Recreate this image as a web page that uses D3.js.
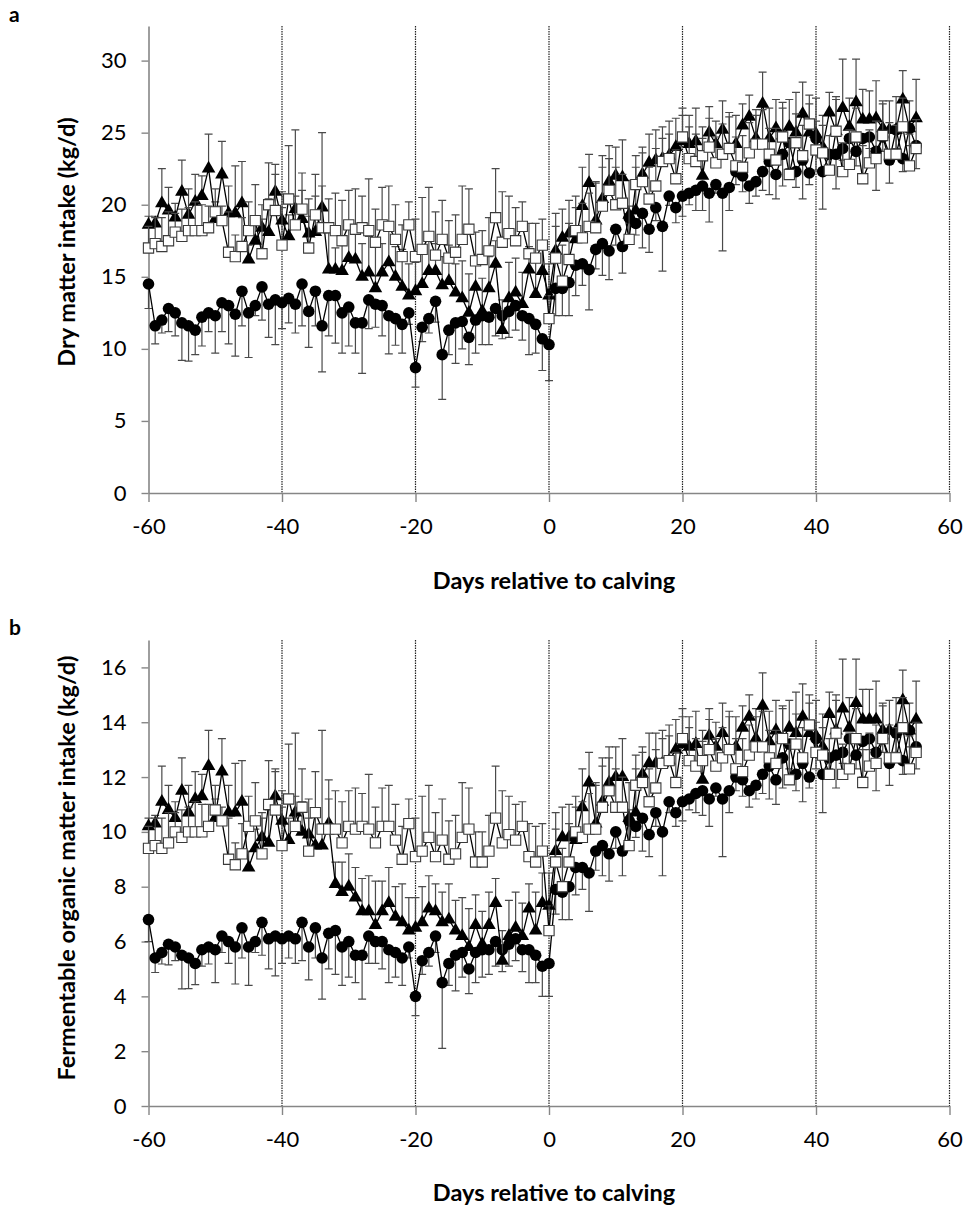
<!DOCTYPE html>
<html>
<head>
<meta charset="utf-8">
<script src="https://cdn.jsdelivr.net/npm/d3@7"></script>
<style>
  body { margin: 0; background: #fff; }
  svg { display: block; }
  text { font-family: Lato, "Open Sans", sans-serif; fill: #000; }
</style>
</head>
<body>
<div id="chart"></div>
<script>
// days relative to calving, one record per day
const days = d3.range(-60, 56);
const xTicks = [-60, -40, -20, 0, 20, 40, 60];
const guideDays = [-40, -20, 0, 20, 40, 60];
const dmiTicks = [0, 5, 10, 15, 20, 25, 30];
const fomTicks = [0, 2, 4, 6, 8, 10, 12, 14, 16];

// panel a: dry matter intake (kg/d)
const dmiCircle = [14.5, 11.6, 12.0, 12.8, 12.5, 11.8, 11.6, 11.3, 12.2, 12.5,
  12.3, 13.2, 13.0, 12.4, 14.0, 12.5, 13.0, 14.3, 13.1, 13.4,
  13.2, 13.5, 13.1, 14.5, 12.6, 14.0, 11.6, 13.7, 13.7, 12.5,
  12.9, 11.8, 11.8, 13.4, 13.1, 13.0, 12.3, 12.1, 11.7, 12.5,
  8.7, 11.5, 12.1, 13.3, 9.6, 11.3, 11.8, 11.9, 10.8, 12.0,
  12.3, 12.2, 12.8, 12.3, 12.6, 13.0, 12.3, 12.1, 11.7, 10.7,
  10.3, 14.2, 14.2, 14.6, 15.8, 15.9, 15.5, 16.9, 17.3, 16.8,
  18.3, 17.1, 19.1, 18.7, 19.4, 18.3, 19.8, 18.5, 20.6, 19.8,
  20.6, 20.8, 21.0, 21.3, 20.8, 21.4, 20.8, 21.2, 22.3, 22.0,
  21.3, 21.6, 22.3, 23.0, 22.1, 23.5, 24.3, 22.3, 23.1, 22.2,
  24.6, 22.3, 23.5, 23.5, 23.9, 24.6, 23.7, 24.6, 24.7, 23.7,
  24.7, 23.1, 25.2, 23.2, 25.3, 24.1];
const dmiCircleErr = [1.7, 1.25, 0.9, 1.6, 1.6, 2.6, 2.45, 1.7, 2.0, 1.3,
  2.6, 2.0, 2.65, 2.9, 2.4, 3.1, 0.7, 2.3, 2.3, 3.1,
  1.8, 1.7, 2.0, 2.9, 2.5, 2.4, 3.2, 2.8, 3.3, 2.8,
  2.7, 2.1, 3.5, 2.0, 1.6, 2.1, 2.65, 1.85, 2.0, 0.8,
  1.35, 1.0, 1.0, 1.45, 3.1, 1.7, 2.8, 1.9, 1.9, 2.3,
  2.0, 1.9, 1.9, 1.6, 1.8, 1.7, 1.7, 2.5, 2.0, 2.2,
  2.5, 1.9, 1.9, 2.3, 2.1, 1.5, 2.8, 1.35, 2.2, 2.0,
  1.1, 1.85, 1.6, 0.8, 2.4, 1.6, 0.9, 3.1, 0.65, 1.05,
  1.4, 0.8, 1.4, 1.7, 2.0, 0.6, 4.0, 1.6, 0.9, 1.1,
  1.2, 1.0, 1.3, 2.3, 1.7, 2.2, 1.8, 1.1, 2.7, 0.8,
  2.2, 2.6, 0.8, 2.4, 0.8, 1.9, 1.0, 2.5, 0.8, 2.7,
  1.0, 1.6, 1.3, 0.9, 1.2, 1.6];
const dmiTriangle = [18.6, 18.7, 20.1, 19.6, 19.1, 20.9, 19.3, 20.2, 20.6, 22.5,
  19.0, 22.1, 19.4, 19.4, 20.1, 16.2, 17.5, 18.4, 18.1, 20.9,
  18.9, 17.8, 19.7, 19.0, 18.0, 18.1, 19.8, 15.5, 15.5, 15.4,
  16.3, 16.2, 15.0, 15.3, 14.2, 15.3, 16.0, 15.0, 14.3, 13.7,
  14.0, 14.5, 15.4, 15.4, 14.4, 14.7, 13.9, 13.5, 12.5, 14.3,
  12.6, 14.2, 15.9, 11.3, 13.5, 13.9, 13.1, 15.5, 13.8, 15.4,
  13.7, 16.8, 17.7, 18.0, 17.6, 19.9, 21.5, 18.9, 20.4, 21.6,
  22.0, 21.9, 19.3, 19.6, 22.1, 22.9, 23.1, 23.2, 23.4, 24.0,
  24.4, 24.2, 24.4, 22.0, 25.0, 24.2, 25.2, 23.9, 24.2, 25.5,
  26.1, 24.6, 27.0, 24.6, 25.3, 24.8, 25.4, 25.0, 26.3, 25.0,
  24.9, 24.0, 26.4, 25.1, 26.7, 25.4, 27.1, 25.9, 25.9, 26.0,
  25.3, 25.2, 25.2, 27.3, 25.3, 26.0];
const dmiTriangleErr = [0.6, 0.5, 2.4, 1.6, 1.0, 2.2, 1.8, 1.9, 1.4, 2.4,
  1.2, 2.3, 1.9, 3.3, 2.9, 1.0, 1.2, 1.6, 2.3, 1.9,
  2.0, 1.5, 5.5, 2.0, 2.4, 2.5, 1.5, 3.0, 1.5, 2.0,
  2.2, 2.0, 2.3, 2.5, 3.0, 2.0, 2.4, 2.1, 2.6, 2.2,
  2.0, 2.4, 2.3, 1.9, 2.0, 2.5, 2.0, 2.6, 2.7, 2.0,
  2.3, 2.2, 1.6, 2.1, 2.5, 2.4, 2.2, 1.6, 2.6, 2.0,
  2.2, 2.6, 2.0, 2.3, 2.2, 2.7, 2.0, 2.6, 3.0, 2.5,
  2.0, 2.6, 2.4, 3.0, 1.5, 2.0, 2.1, 2.2, 2.4, 2.0,
  1.8, 2.0, 2.3, 2.6, 1.8, 1.6, 2.0, 2.2, 2.0, 1.5,
  1.5, 2.0, 2.2, 2.1, 2.0, 2.3, 1.9, 2.8, 2.2, 2.0,
  2.5, 2.2, 1.4, 2.4, 3.4, 2.0, 3.0, 2.1, 2.0, 2.6,
  1.9, 2.0, 2.3, 2.0, 1.9, 2.7];
const dmiSquare = [17.0, 17.3, 17.1, 17.5, 18.1, 17.8, 18.2, 18.2, 18.2, 18.4,
  19.5, 18.9, 16.7, 16.4, 17.1, 18.2, 18.9, 16.6, 20.0, 19.6,
  17.2, 20.4, 18.6, 19.7, 17.0, 19.3, 18.4, 18.4, 18.2, 17.5,
  18.6, 18.3, 18.4, 18.2, 17.4, 18.6, 18.5, 17.6, 16.4, 18.6,
  16.4, 16.9, 17.8, 16.5, 17.6, 16.3, 16.7, 17.6, 18.3, 16.1,
  16.2, 16.8, 19.1, 17.4, 18.0, 17.5, 18.5, 16.6, 16.3, 17.2,
  12.1, 16.3, 14.7, 16.2, 18.2, 17.7, 18.5, 18.4, 19.9, 21.0,
  20.0, 20.1, 17.6, 21.4, 21.6, 20.4, 21.3, 23.0, 23.2, 21.8,
  24.7, 23.2, 23.0, 23.4, 24.0, 22.9, 23.5, 23.9, 22.7, 22.6,
  23.6, 24.2, 24.2, 23.5, 23.1, 24.7, 22.1, 24.3, 23.4, 25.6,
  23.8, 23.6, 22.4, 25.1, 22.3, 22.8, 24.7, 21.8, 22.9, 23.2,
  24.8, 23.5, 23.5, 25.4, 22.7, 23.9];
const dmiSquareErr = [1.5, 1.8, 2.0, 2.0, 1.3, 1.9, 1.6, 2.0, 1.8, 1.5,
  1.6, 1.0, 2.8, 1.5, 2.0, 2.0, 2.5, 2.4, 2.9, 2.5,
  2.6, 3.7, 2.0, 2.5, 2.2, 2.8, 6.6, 2.0, 2.6, 2.8,
  2.4, 2.8, 2.2, 3.6, 2.3, 2.6, 2.8, 2.4, 2.2, 1.6,
  2.6, 3.6, 3.4, 3.0, 2.7, 2.6, 2.6, 3.7, 2.8, 2.0,
  2.0, 2.3, 3.4, 3.5, 2.6, 2.3, 1.7, 2.1, 2.4, 1.8,
  1.6, 2.2, 2.5, 2.5, 2.4, 2.4, 2.3, 3.2, 2.7, 2.2,
  2.6, 2.0, 2.3, 2.0, 2.4, 2.2, 2.6, 1.6, 1.7, 2.0,
  2.0, 2.2, 1.9, 2.0, 2.0, 1.8, 2.1, 2.5, 2.0, 2.2,
  2.1, 2.0, 2.4, 1.8, 2.2, 2.0, 2.4, 2.0, 2.1, 2.0,
  2.0, 1.9, 2.4, 2.2, 2.0, 2.4, 2.0, 2.3, 2.3, 2.6,
  2.2, 2.2, 2.0, 2.0, 2.2, 2.0];

// panel b: fermentable organic matter intake (kg/d)
const fomCircle = [6.8, 5.4, 5.6, 5.9, 5.8, 5.5, 5.4, 5.2, 5.7, 5.8,
  5.7, 6.2, 6.0, 5.8, 6.5, 5.8, 6.0, 6.7, 6.1, 6.2,
  6.1, 6.2, 6.1, 6.7, 5.8, 6.5, 5.4, 6.3, 6.4, 5.8,
  6.0, 5.5, 5.5, 6.2, 6.0, 6.0, 5.7, 5.6, 5.4, 5.8,
  4.0, 5.3, 5.6, 6.2, 4.5, 5.2, 5.5, 5.6, 5.0, 5.6,
  5.7, 5.7, 6.0, 5.7, 5.9, 6.1, 5.7, 5.7, 5.5, 5.1,
  5.2, 7.9, 7.8, 8.0, 8.7, 8.7, 8.5, 9.3, 9.5, 9.2,
  10.0, 9.3, 10.4, 10.2, 10.5, 9.9, 10.7, 10.0, 11.1, 10.7,
  11.1, 11.2, 11.4, 11.5, 11.2, 11.6, 11.2, 11.5, 12.0, 11.9,
  11.5, 11.7, 12.1, 12.4, 11.9, 12.7, 13.2, 12.1, 12.5, 12.0,
  13.4, 12.1, 12.7, 12.8, 12.9, 13.4, 12.8, 13.3, 13.4, 12.9,
  13.4, 12.5, 13.6, 12.6, 13.7, 13.1];
const fomCircleErr = [0.8, 0.53, 0.42, 0.75, 0.5, 1.23, 1.12, 0.77, 0.6, 0.62,
  1.2, 0.6, 0.8, 1.35, 1.1, 1.4, 0.4, 1.2, 1.1, 1.45,
  0.9, 0.8, 0.9, 1.4, 1.2, 1.1, 1.5, 1.3, 1.6, 1.4,
  1.3, 1.0, 1.6, 1.0, 0.8, 1.0, 1.2, 0.9, 1.0, 0.4,
  0.7, 0.5, 0.5, 0.6, 2.4, 0.8, 1.3, 0.9, 0.9, 1.1,
  1.0, 0.9, 0.9, 0.8, 0.8, 0.8, 0.8, 1.2, 1.0, 1.1,
  1.2, 0.9, 1.0, 1.2, 1.0, 0.8, 1.4, 0.7, 1.1, 1.0,
  0.6, 0.9, 0.8, 0.4, 1.2, 0.8, 0.5, 1.6, 0.4, 0.5,
  0.7, 0.4, 0.7, 0.9, 1.0, 0.3, 2.1, 0.8, 0.5, 0.6,
  0.6, 0.5, 0.7, 1.2, 0.9, 1.1, 0.9, 0.6, 1.4, 0.4,
  1.1, 1.4, 0.4, 1.2, 0.4, 1.0, 0.5, 1.3, 0.4, 1.4,
  0.5, 0.8, 0.7, 0.5, 0.6, 0.8];
const fomTriangle = [10.2, 10.3, 11.1, 10.8, 10.5, 11.5, 10.7, 11.2, 11.3, 12.4,
  10.5, 12.2, 10.7, 10.7, 11.1, 8.7, 9.4, 9.8, 9.6, 11.3,
  10.4, 9.7, 10.7, 10.0, 9.9, 9.5, 9.5, 10.3, 8.1, 7.8,
  8.0, 7.6, 7.1, 7.1, 6.6, 7.1, 7.4, 6.9, 6.7, 6.4,
  6.5, 6.7, 7.2, 7.1, 6.7, 6.8, 6.4, 6.2, 5.8, 6.6,
  5.9, 6.6, 7.4, 5.3, 6.2, 6.5, 6.2, 7.2, 6.4, 7.4,
  7.3, 9.3, 9.8, 9.8, 9.7, 10.9, 11.8, 10.3, 11.1, 11.8,
  12.0, 12.0, 10.5, 10.7, 12.1, 12.5, 12.5, 12.5, 12.6, 13.0,
  13.2, 13.1, 13.2, 11.9, 13.5, 13.1, 13.6, 13.0, 13.1, 13.8,
  14.2, 13.4, 14.6, 13.3, 13.7, 13.4, 13.8, 13.6, 14.2, 13.6,
  13.5, 13.1, 14.3, 13.7, 14.5, 13.8, 14.7, 14.1, 14.1, 14.1,
  13.7, 13.7, 13.7, 14.8, 13.7, 14.1];
const fomTriangleErr = [0.3, 0.3, 1.3, 0.9, 0.6, 1.2, 1.0, 1.0, 0.8, 1.3,
  0.7, 1.2, 1.0, 1.8, 1.5, 0.6, 0.7, 0.9, 1.2, 1.0,
  1.1, 0.8, 2.9, 1.1, 1.3, 1.3, 0.8, 1.6, 0.8, 1.1,
  1.2, 1.1, 1.2, 1.3, 1.6, 1.1, 1.3, 1.1, 1.4, 1.2,
  1.1, 1.3, 1.2, 1.0, 1.1, 1.3, 1.1, 1.4, 1.4, 1.1,
  1.2, 1.2, 0.9, 1.1, 1.3, 1.3, 1.2, 0.9, 1.4, 1.1,
  1.2, 1.4, 1.1, 1.2, 1.2, 1.4, 1.1, 1.4, 1.6, 1.3,
  1.1, 1.4, 1.3, 1.6, 0.8, 1.1, 1.1, 1.2, 1.3, 1.1,
  1.0, 1.1, 1.2, 1.4, 1.0, 0.9, 1.1, 1.2, 1.1, 0.8,
  0.8, 1.1, 1.2, 1.1, 1.1, 1.2, 1.0, 1.5, 1.2, 1.1,
  1.3, 1.2, 0.8, 1.3, 1.8, 1.1, 1.6, 1.1, 1.1, 1.4,
  1.0, 1.1, 1.2, 1.1, 1.0, 1.4];
const fomSquare = [9.4, 9.5, 9.4, 9.6, 10.0, 9.8, 10.0, 10.0, 10.0, 10.2,
  10.8, 10.4, 9.0, 8.8, 9.2, 10.2, 10.4, 9.2, 11.0, 10.8,
  9.5, 11.2, 10.2, 10.9, 9.3, 10.7, 10.1, 10.1, 10.1, 9.6,
  10.2, 10.1, 10.2, 10.1, 9.6, 10.2, 10.2, 9.7, 9.0, 10.3,
  9.1, 9.3, 9.8, 9.1, 9.7, 9.0, 9.2, 9.8, 10.1, 8.9,
  8.9, 9.3, 10.5, 9.6, 9.9, 9.7, 10.2, 9.1, 8.9, 9.3,
  6.4, 8.9, 8.0, 8.9, 10.0, 9.8, 10.1, 10.1, 10.9, 11.5,
  10.9, 10.9, 9.5, 11.7, 11.8, 11.1, 11.6, 12.5, 12.6, 11.8,
  13.4, 12.6, 12.4, 12.6, 13.0, 12.4, 12.7, 13.0, 12.3, 12.2,
  12.8, 13.1, 13.1, 12.7, 12.5, 13.4, 11.9, 13.2, 12.7, 13.9,
  12.9, 12.8, 12.1, 13.6, 12.1, 12.3, 13.4, 11.8, 12.4, 12.5,
  13.4, 12.7, 12.7, 13.8, 12.3, 12.9];
const fomSquareErr = [0.8, 1.0, 1.1, 1.1, 0.7, 1.0, 0.9, 1.1, 1.0, 0.8,
  0.9, 0.5, 1.5, 0.8, 1.1, 1.1, 1.4, 1.3, 1.6, 1.4,
  1.4, 2.0, 1.1, 1.4, 1.2, 1.5, 3.6, 1.1, 1.4, 1.5,
  1.3, 1.5, 1.2, 2.0, 1.3, 1.4, 1.5, 1.3, 1.2, 0.9,
  1.4, 2.0, 1.9, 1.6, 1.5, 1.4, 1.4, 2.0, 1.5, 1.1,
  1.1, 1.3, 1.9, 1.9, 1.4, 1.3, 0.9, 1.2, 1.3, 1.0,
  0.9, 1.2, 1.4, 1.4, 1.3, 1.3, 1.3, 1.7, 1.5, 1.2,
  1.4, 1.1, 1.3, 1.1, 1.3, 1.2, 1.4, 0.9, 0.9, 1.1,
  1.1, 1.2, 1.0, 1.1, 1.1, 1.0, 1.1, 1.4, 1.1, 1.2,
  1.1, 1.1, 1.3, 1.0, 1.2, 1.1, 1.3, 1.1, 1.1, 1.1,
  1.1, 1.0, 1.3, 1.2, 1.1, 1.3, 1.1, 1.2, 1.2, 1.4,
  1.2, 1.2, 1.1, 1.1, 1.2, 1.1];

const W = 966, H = 1208;
const svg = d3.select("#chart").append("svg")
  .attr("width", W)
  .attr("height", H)
  .attr("viewBox", [0, 0, W, H].join(" "));

const x = d3.scaleLinear().domain([-60, 60]).range([148.5, 949.5]);
const axisGray = "#868686";

function drawPanel(p) {
  const y = d3.scaleLinear().domain([0, p.yMax]).range([p.bottom, p.top]);
  const g = svg.append("g");

  // dotted guide lines at each 20 days
  g.append("g").selectAll("line")
    .data(guideDays)
    .join("line")
      .attr("x1", d => x(d)).attr("x2", d => x(d))
      .attr("y1", p.top).attr("y2", p.bottom)
      .attr("stroke", "#222")
      .attr("stroke-width", 1.2)
      .attr("stroke-dasharray", "1.5,1");

  // axes, plain hyphen for negatives like the source
  const yAxis = g.append("g")
    .attr("transform", `translate(${x(-60)},0)`)
    .call(d3.axisLeft(y).tickValues(p.ticks).tickFormat(d => String(d))
      .tickSize(7).tickSizeOuter(0).tickPadding(15));
  const xAxis = g.append("g")
    .attr("transform", `translate(0,${p.bottom})`)
    .call(d3.axisBottom(x).tickValues(xTicks).tickFormat(d => String(d))
      .tickSize(9).tickSizeOuter(0).tickPadding(16));

  [yAxis, xAxis].forEach(a => {
    a.select(".domain").attr("stroke", axisGray).attr("stroke-width", 1.6);
    a.selectAll(".tick line").attr("stroke", axisGray).attr("stroke-width", 1.4);
    a.selectAll(".tick text")
      .attr("font-size", 22)
      .attr("font-family", "Lato, 'Open Sans', sans-serif")
      .attr("fill", "#000");
  });

  // series: circles (error down), triangles and squares (error up)
  p.series.forEach(s => {
    const pts = days.map((d, i) => ({day: d, v: s.values[i], e: s.err[i]}));
    const sg = g.append("g");
    const tip = d => y(d.v + s.dir * d.e);

    sg.append("g").selectAll("path")
      .data(pts)
      .join("path")
        .attr("d", d => `M${x(d.day)},${y(d.v)}V${tip(d)}M${x(d.day) - 4},${tip(d)}H${x(d.day) + 4}`)
        .attr("fill", "none")
        .attr("stroke", "#4a4a4a")
        .attr("stroke-width", 1.2);

    sg.append("path")
      .datum(pts)
      .attr("fill", "none")
      .attr("stroke", "#000")
      .attr("stroke-width", 1.3)
      .attr("d", d3.line().x(d => x(d.day)).y(d => y(d.v)));

    if (s.shape === "circle") {
      sg.append("g").selectAll("circle")
        .data(pts)
        .join("circle")
          .attr("cx", d => x(d.day))
          .attr("cy", d => y(d.v))
          .attr("r", 5.8)
          .attr("fill", "#000");
    } else {
      const sym = s.shape === "triangle"
        ? d3.symbol(d3.symbolTriangle, 80)
        : d3.symbol(d3.symbolSquare, 105);
      sg.append("g").selectAll("path")
        .data(pts)
        .join("path")
          .attr("transform", d => `translate(${x(d.day)},${y(d.v)})`)
          .attr("d", sym)
          .attr("fill", s.shape === "triangle" ? "#000" : "#fff")
          .attr("stroke", s.shape === "triangle" ? "none" : "#3a3a3a")
          .attr("stroke-width", 1.1);
    }
  });

  // titles
  g.append("text")
    .attr("transform", `translate(${p.yTitleX},${p.yTitleY}) rotate(-90)`)
    .attr("text-anchor", "middle")
    .attr("dominant-baseline", "central")
    .attr("font-size", 23.5)
    .attr("font-weight", "bold")
    .text(p.yTitle);

  g.append("text")
    .attr("x", 554)
    .attr("y", p.xTitleY)
    .attr("text-anchor", "middle")
    .attr("font-size", 23.5)
    .attr("font-weight", "bold")
    .text("Days relative to calving");

  g.append("text")
    .attr("x", 9)
    .attr("y", p.letterY)
    .attr("font-size", 21)
    .attr("font-weight", "bold")
    .text(p.letter);
}

drawPanel({
  letter: "a", letterY: 22,
  yMax: 32.4, top: 26, bottom: 493, ticks: dmiTicks,
  yTitle: "Dry matter intake (kg/d)", yTitleX: 66, yTitleY: 242,
  xTitleY: 589,
  series: [
    {shape: "circle", values: dmiCircle, err: dmiCircleErr, dir: -1},
    {shape: "triangle", values: dmiTriangle, err: dmiTriangleErr, dir: 1},
    {shape: "square", values: dmiSquare, err: dmiSquareErr, dir: 1}
  ]
});

drawPanel({
  letter: "b", letterY: 635,
  yMax: 17, top: 640, bottom: 1106, ticks: fomTicks,
  yTitle: "Fermentable organic matter intake (kg/d)", yTitleX: 66, yTitleY: 868,
  xTitleY: 1201,
  series: [
    {shape: "circle", values: fomCircle, err: fomCircleErr, dir: -1},
    {shape: "triangle", values: fomTriangle, err: fomTriangleErr, dir: 1},
    {shape: "square", values: fomSquare, err: fomSquareErr, dir: 1}
  ]
});
</script>
</body>
</html>
